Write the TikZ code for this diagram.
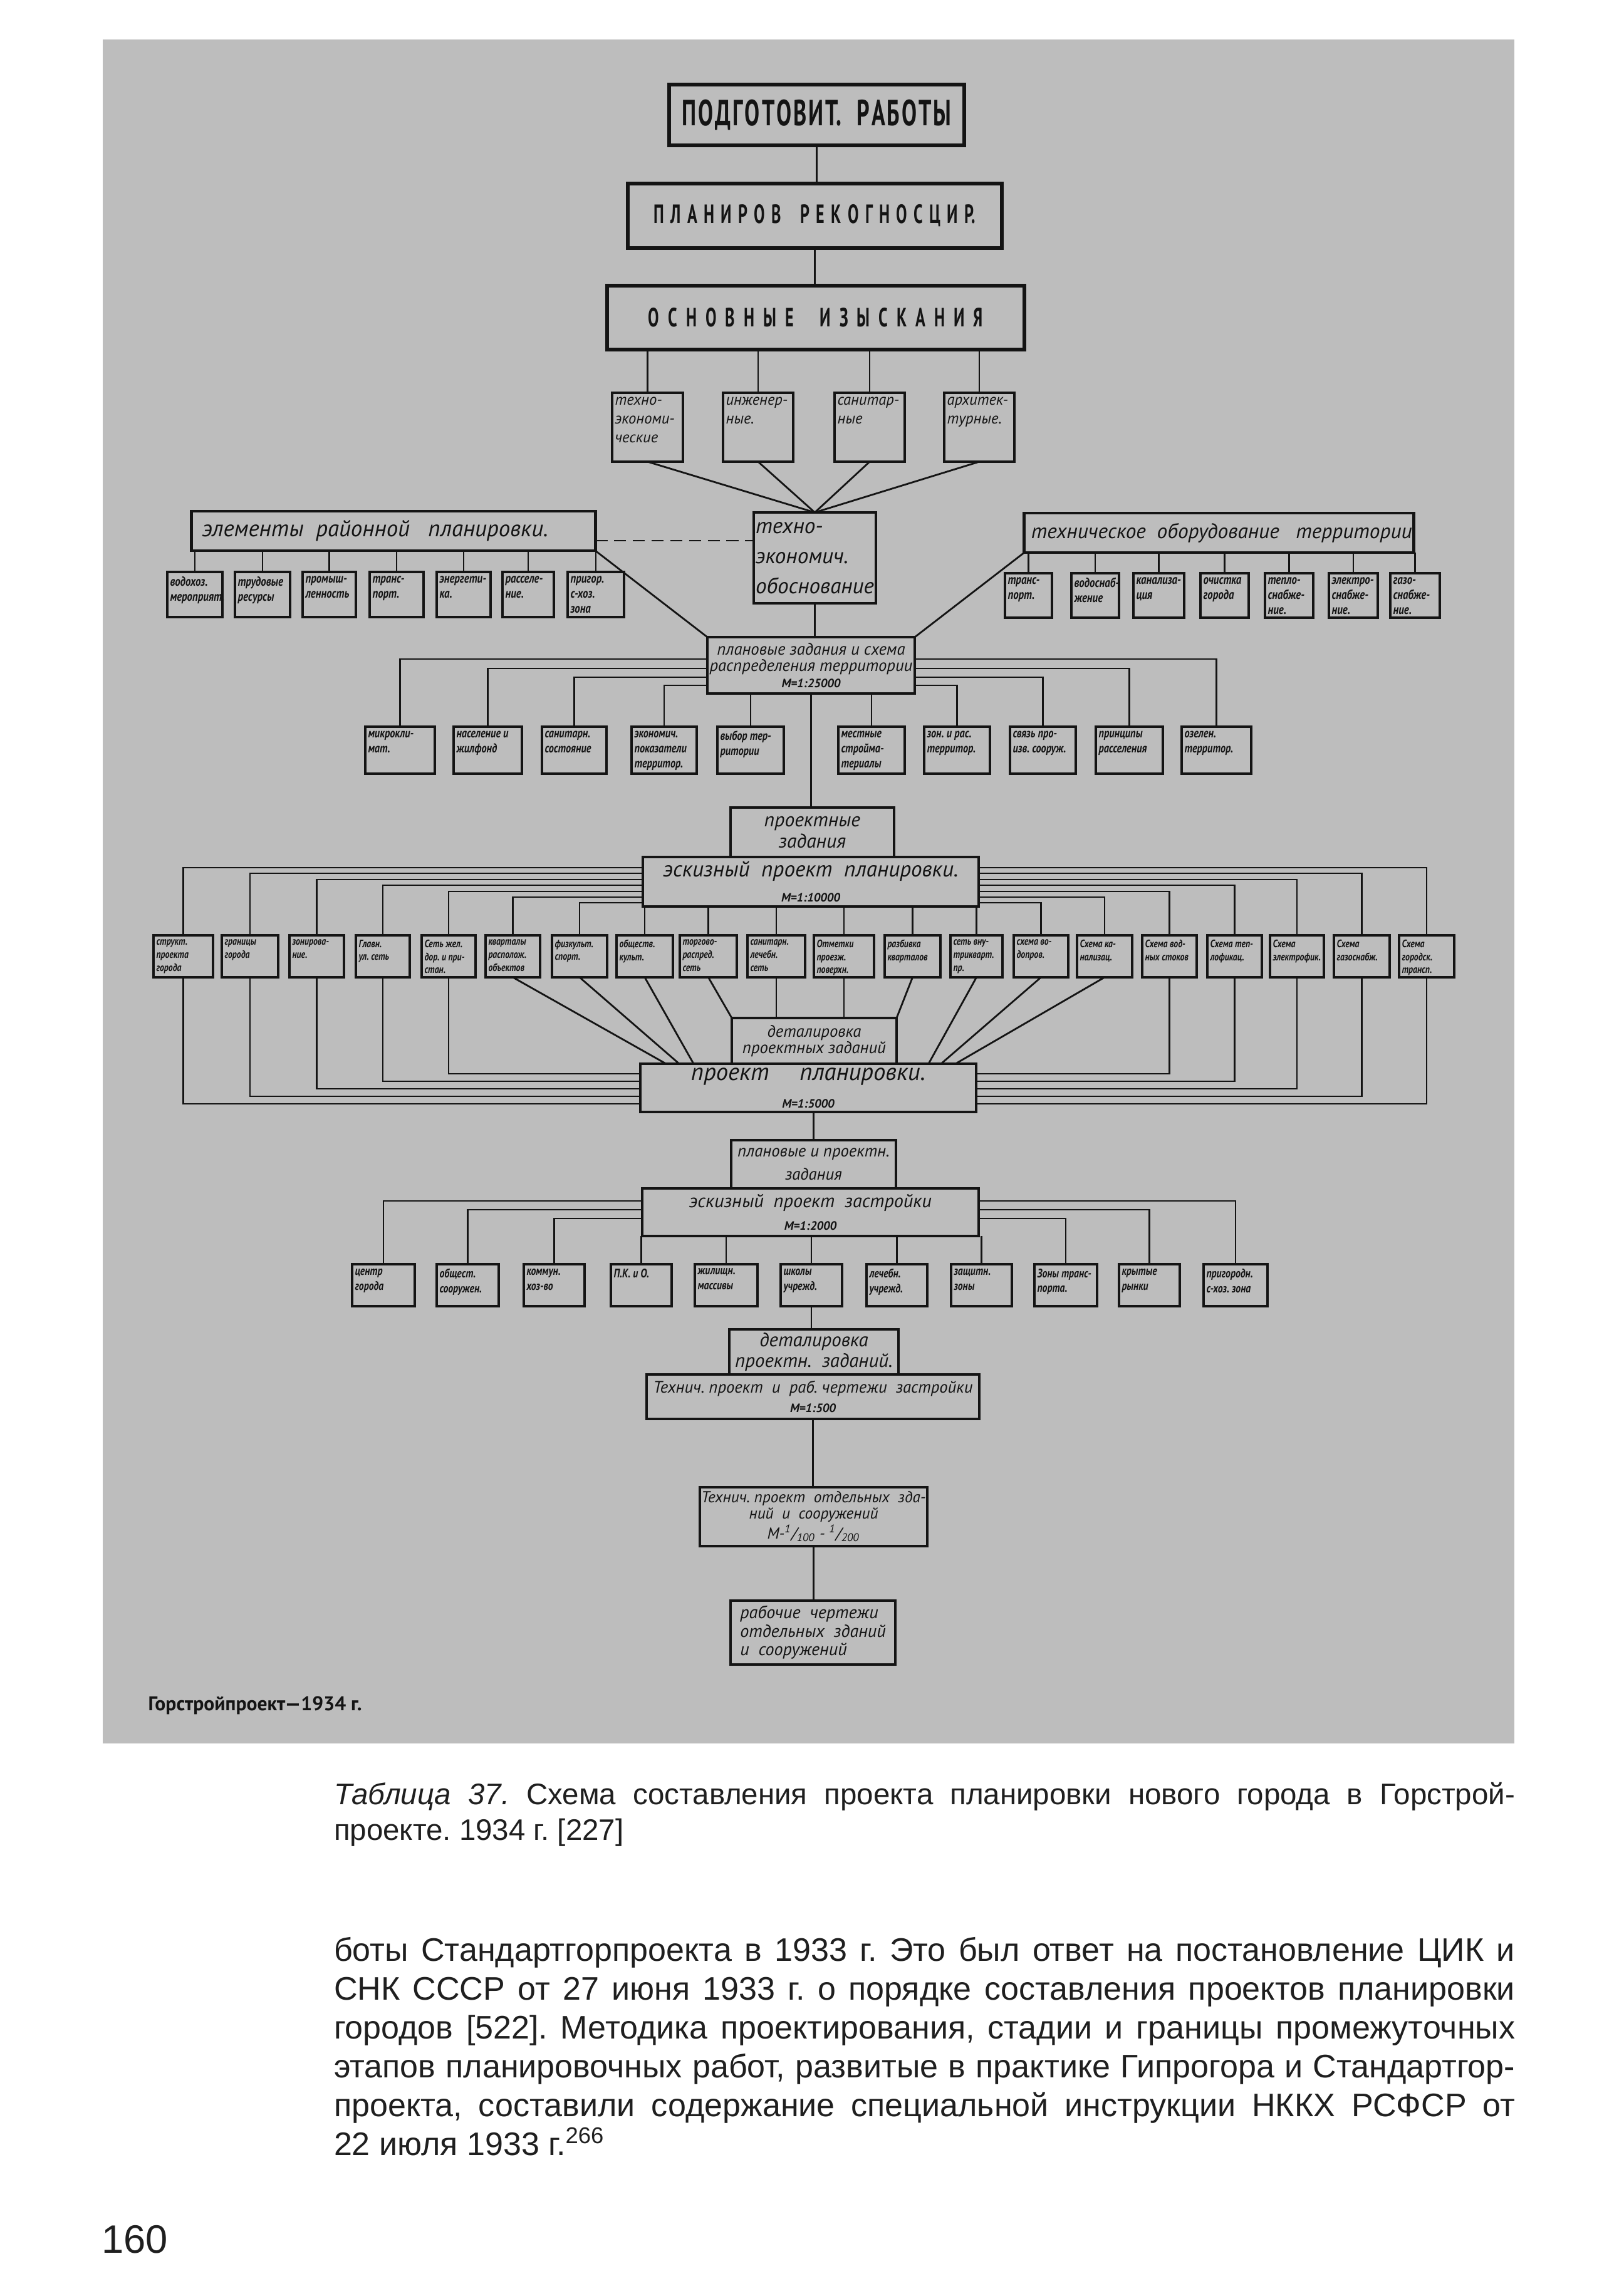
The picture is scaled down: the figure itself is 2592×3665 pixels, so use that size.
\documentclass[tikz,border=0pt]{standalone}
\usepackage{fontspec}
\usepackage{graphicx}
\setmainfont{Liberation Sans}
\newfontfamily\hand{PT Sans}
\newfontfamily\handN[FakeStretch=0.8]{PT Sans}
\newfontfamily\hdr[FakeStretch=0.62]{PT Sans}
\definecolor{photo}{gray}{0.74}
\definecolor{ink}{gray}{0.08}
\definecolor{pagetext}{gray}{0.12}
\frenchspacing
\newcommand\g{\hskip 0pt plus 1fil\relax}
\newcommand\hdrB[1]{\hdr\bfseries\fontsize{#1}{#1}\selectfont}
\newcommand\hI[2]{\hand\itshape\fontsize{#1}{#2}\selectfont}
\newcommand\hNBI[2]{\handN\itshape\bfseries\fontsize{#1}{#2}\selectfont}
\newcommand\smallM[1]{{\hand\itshape\bfseries\fontsize{5.5}{6}\selectfont #1}}
\tikzset{
  box/.style={draw=ink, line width=1.2pt, inner sep=0pt, outer sep=0pt, align=center, text=ink},
  bigbox/.style={box, line width=1.7pt},
  sbox/.style={draw=ink, line width=0.9pt, inner sep=0pt, outer sep=0pt},
  txt/.style={inner sep=0pt, outer sep=0pt, align=left, text=ink},
  con/.style={draw=ink, line width=0.8pt},
  efont/.style={font=\hNBI{6}{6.8}},
  pfont/.style={font=\hNBI{5.8}{6.8}},
  qfont/.style={font=\hNBI{4.9}{5.9}},
  rfont/.style={font=\hNBI{5.6}{6.8}},
  sfont/.style={font=\hI{7}{8.5}},
  ptext/.style={inner sep=0pt, outer sep=0pt, anchor=base west, text=pagetext}
}
% [style]{name}{x1}{y1}{x2}{y2}{text}
\newcommand\BX[7][]{\node[box,#1,minimum width={(#5-#3)*0.01cm},minimum height={(#6-#4)*0.01cm}] (#2) at ({(#3+#5)/2},{(#4+#6)/2}) {#7};}
\newcommand\SBX[7][]{\node[sbox,minimum width={(#5-#3)*0.01cm},minimum height={(#6-#4)*0.01cm}] (#2) at ({(#3+#5)/2},{(#4+#6)/2}) {};
  \node[txt,anchor=north west,#1] (#2t) at ([xshift=0.045cm,yshift=-0.07cm]#2.north west) {#7};}
\begin{document}
\begin{tikzpicture}[x=0.01cm,y=-0.01cm]
\useasboundingbox (0,0) rectangle (2592,3665);
\fill[white] (0,0) rectangle (2592,3665);
\fill[photo] (164,63) rectangle (2417,2783);

% ---- top chain
\BX[bigbox,font=\hdrB{16.5}]{b1}{1068}{135}{1539}{232}{\makebox[4.3cm][s]{П\g О\g Д\g Г\g О\g Т\g О\g В\g И\g Т.\g\ \ \g Р\g А\g Б\g О\g Т\g Ы}}
\BX[bigbox,font=\hdrB{12}]{b2}{1002}{293}{1599}{396}{\makebox[5.13cm][s]{П Л А Н И Р О В \ \ Р Е К О Г Н О С Ц И Р.}}
\BX[bigbox,font=\hdrB{12}]{b3}{969}{456}{1635}{558}{\makebox[5.34cm][s]{О С Н О В Н Ы Е \ \ И З Ы С К А Н И Я}}
\draw[con] (b1.south) -- (b1.south |- b2.north);
\draw[con] (b2.south) -- (b2.south |- b3.north);

\SBX[sfont]{s1}{977}{627}{1090}{737}{техно-\\экономи-\\ческие}
\SBX[sfont]{s2}{1154}{627}{1266}{737}{инженер-\\ные.}
\SBX[sfont]{s3}{1332}{627}{1444}{737}{санитар-\\ные}
\SBX[sfont]{s4}{1507}{627}{1619}{737}{архитек-\\турные.}
\foreach \n in {s1,s2,s3,s4} \draw[con] (b3.south -| \n.north) -- (\n.north);

\BX[box,line width=1.4pt,font=\hI{10}{13.7},align=left]{tech}{1203}{818}{1398}{963}{техно-\\экономич.\\обоснование}
\foreach \n in {s1,s2,s3,s4} \draw[con] (\n.south) -- (tech.north);

% ---- left: элементы районной планировки
\BX[box,line width=1.4pt,font=\hI{10.5}{12}]{el}{306}{816}{950}{879}{\makebox[6.44cm][l]{\hspace{0.17cm}элементы\ \ районной\ \ \ планировки.}}
\SBX[efont]{e1}{267}{913}{355}{985}{водохоз.\\мероприят.}
\SBX[efont]{e2}{375}{913}{463}{985}{трудовые\\ресурсы}
\SBX[efont]{e3}{483}{913}{568}{985}{промыш-\\ленность}
\SBX[efont]{e4}{590}{913}{676}{985}{транс-\\порт.}
\SBX[efont]{e5}{697}{913}{783}{985}{энергети-\\ка.}
\SBX[efont]{e6}{802}{913}{884}{985}{расселе-\\ние.}
\SBX[efont]{e7}{906}{913}{996}{985}{пригор.\\с-хоз.\\зона}
\foreach \n in {e1,e2,e3,e4,e5,e6,e7} \draw[con] (el.south -| \n.north) -- (\n.north);
\draw[con,dash pattern=on 5.5pt off 3pt] (el.east |- 0,863) -- (tech.west |- 0,863);

% ---- right: техническое оборудование территории
\BX[box,line width=1.4pt,font=\hI{9.5}{11}]{to}{1635}{819}{2256}{882}{\makebox[6.21cm][l]{\hspace{0.11cm}техническое\ \ оборудование\ \ \ территории.}}
\SBX[efont]{t1}{1604}{915}{1679}{986}{транс-\\порт.}
\SBX[efont]{t2}{1710}{915}{1786}{986}{водоснаб-\\жение}
\SBX[efont]{t3}{1809}{915}{1890}{986}{канализа-\\ция}
\SBX[efont]{t4}{1916}{915}{1993}{986}{очистка\\города}
\SBX[efont]{t5}{2019}{915}{2096}{986}{тепло-\\снабже-\\ние.}
\SBX[efont]{t6}{2121}{915}{2199}{986}{электро-\\снабже-\\ние.}
\SBX[efont]{t7}{2219}{915}{2298}{986}{газо-\\снабже-\\ние.}
\foreach \n in {t1,t2,t3,t4,t5,t6,t7} \draw[con] (to.south -| \n.north) -- (\n.north);

% ---- плановые задания
\BX[box,line width=1.4pt,font=\hI{7.6}{7.4}]{plan}{1129}{1017}{1460}{1107}{плановые задания и схема\\распределения территории\\\smallM{М=1:25000}}
\draw[con] (el.south east) -- (plan.north west);
\draw[con] (to.south west) -- (plan.north east);
\draw[con] (tech.south) -- (tech.south |- plan.north);

\SBX[pfont]{p1}{583}{1160}{694}{1235}{микрокли-\\мат.}
\SBX[pfont]{p2}{724}{1160}{833}{1235}{население и\\жилфонд}
\SBX[pfont]{p3}{865}{1160}{968}{1235}{санитарн.\\состояние}
\SBX[pfont]{p4}{1008}{1160}{1112}{1235}{экономич.\\показатели\\территор.}
\SBX[pfont]{p5}{1145}{1160}{1251}{1235}{выбор тер-\\ритории}
\SBX[pfont]{p6}{1338}{1160}{1444}{1235}{местные\\стройма-\\териалы}
\SBX[pfont]{p7}{1475}{1160}{1580}{1235}{зон. и рас.\\территор.}
\SBX[pfont]{p8}{1612}{1160}{1717}{1235}{связь про-\\изв. сооруж.}
\SBX[pfont]{p9}{1749}{1160}{1856}{1235}{принципы\\расселения}
\SBX[pfont]{p10}{1886}{1160}{1997}{1235}{озелен.\\территор.}
\foreach \n/\y in {p1/1052,p2/1067,p3/1081,p4/1094} \draw[con] (plan.west |- 0,\y) -| (\n.north);
\foreach \n/\y in {p10/1052,p9/1067,p8/1081,p7/1094} \draw[con] (plan.east |- 0,\y) -| (\n.north);
\foreach \n in {p5,p6} \draw[con] (plan.south -| \n.north) -- (\n.north);

% ---- проектные задания / эскизный проект планировки
\BX[box,line width=1.4pt,font=\hI{9}{9.6}]{pz}{1166}{1289}{1427}{1368}{проектные\\задания}
\draw[con] (plan.south) -- (plan.south |- pz.north);
\BX[box,line width=1.4pt,font=\hI{10}{11.5}]{esk}{1026}{1368}{1562}{1447}{эскизный\ \ проект\ \ планировки.\\\smallM{М=1:10000}}

\SBX[qfont]{q1}{245}{1493}{340}{1560}{структ.\\проекта\\города}
\SBX[qfont]{q2}{354}{1493}{444}{1560}{границы\\города}
\SBX[qfont]{q3}{462}{1493}{549}{1560}{зонирова-\\ние.}
\SBX[qfont]{q4}{568}{1493}{654}{1560}{Главн.\\ул. сеть}
\SBX[qfont]{q5}{673}{1493}{759}{1560}{Сеть жел.\\дор. и при-\\стан.}
\SBX[qfont]{q6}{775}{1493}{862}{1560}{кварталы\\располож.\\объектов}
\SBX[qfont]{q7}{881}{1493}{969}{1560}{физкульт.\\спорт.}
\SBX[qfont]{q8}{984}{1493}{1074}{1560}{обществ.\\культ.}
\SBX[qfont]{q9}{1085}{1493}{1176}{1560}{торгово-\\распред.\\сеть}
\SBX[qfont]{q10}{1193}{1493}{1285}{1560}{санитарн.\\лечебн.\\сеть}
\SBX[qfont]{q11}{1299}{1493}{1395}{1560}{Отметки\\проезж.\\поверхн.}
\SBX[qfont]{q12}{1412}{1493}{1501}{1560}{разбивка\\кварталов}
\SBX[qfont]{q13}{1517}{1493}{1600}{1560}{сеть вну-\\трикварт.\\пр.}
\SBX[qfont]{q14}{1618}{1493}{1705}{1560}{схема во-\\допров.}
\SBX[qfont]{q15}{1719}{1493}{1807}{1560}{Схема ка-\\нализац.}
\SBX[qfont]{q16}{1823}{1493}{1910}{1560}{Схема вод-\\ных стоков}
\SBX[qfont]{q17}{1927}{1493}{2014}{1560}{Схема теп-\\лофикац.}
\SBX[qfont]{q18}{2027}{1493}{2113}{1560}{Схема\\электрофик.}
\SBX[qfont]{q19}{2129}{1493}{2218}{1560}{Схема\\газоснабж.}
\SBX[qfont]{q20}{2233}{1493}{2321}{1560}{Схема\\городск.\\трансп.}
\foreach \n/\y in {q1/1385,q2/1394,q3/1404,q4/1413,q5/1423,q6/1432,q7/1441} \draw[con] (esk.west |- 0,\y) -| (\n.north);
\foreach \n/\y in {q20/1385,q19/1394,q18/1404,q17/1413,q16/1423,q15/1432,q14/1441} \draw[con] (esk.east |- 0,\y) -| (\n.north);
\foreach \n in {q8,q9,q10,q11,q12,q13} \draw[con] (esk.south -| \n.north) -- (\n.north);

% ---- деталировка / проект планировки
\BX[box,line width=1.4pt,font=\hI{7.6}{7.6}]{det}{1168}{1625}{1431}{1698}{деталировка\\проектных заданий}
\BX[box,line width=1.4pt,font=\hI{11}{12.5}]{pp}{1022}{1698}{1558}{1775}{проект\quad\ планировки.\\\smallM{М=1:5000}}
\foreach \n/\y in {q1/1762,q2/1750,q3/1738,q4/1726,q5/1714} \draw[con] (\n.south) |- (pp.west |- 0,\y);
\foreach \n/\y in {q16/1714,q17/1726,q18/1738,q19/1750,q20/1762} \draw[con] (\n.south) |- (pp.east |- 0,\y);
\draw[con] (q6.south) -- (pp.north -| 1063,0);
\draw[con] (q7.south) -- (pp.north -| 1084,0);
\draw[con] (q8.south) -- (pp.north -| 1107,0);
\draw[con] (q9.south) -- (det.north west);
\draw[con] (q10.south) -- (q10.south |- det.north);
\draw[con] (q11.south) -- (q11.south |- det.north);
\draw[con] (q12.south) -- (det.north east);
\draw[con] (q13.south) -- (pp.north -| 1482,0);
\draw[con] (q14.south) -- (pp.north -| 1502,0);
\draw[con] (q15.south) -- (pp.north -| 1525,0);

% ---- плановые и проектн. задания / эскизный проект застройки
\BX[box,line width=1.4pt,font=\hI{7.6}{10.5}]{pz2}{1167}{1820}{1430}{1897}{плановые и проектн.\\задания}
\draw[con] (pp.south -| pz2.north) -- (pz2.north);
\BX[box,line width=1.4pt,font=\hI{8.6}{10}]{ez}{1025}{1897}{1562}{1973}{эскизный\ \ проект\ \ застройки\\\smallM{М=1:2000}}

\SBX[rfont]{r1}{562}{2018}{662}{2085}{центр\\города}
\SBX[rfont]{r2}{697}{2018}{796}{2085}{общест.\\сооружен.}
\SBX[rfont]{r3}{836}{2018}{933}{2085}{коммун.\\хоз-во}
\SBX[rfont]{r4}{975}{2018}{1072}{2085}{П.К. и О.}
\SBX[rfont]{r5}{1109}{2018}{1209}{2085}{жилищн.\\массивы}
\SBX[rfont]{r6}{1246}{2018}{1344}{2085}{школы\\учрежд.}
\SBX[rfont]{r7}{1383}{2018}{1480}{2085}{лечебн.\\учрежд.}
\SBX[rfont]{r8}{1518}{2018}{1615}{2085}{защитн.\\зоны}
\SBX[rfont]{r9}{1651}{2018}{1751}{2085}{Зоны транс-\\порта.}
\SBX[rfont]{r10}{1786}{2018}{1883}{2085}{крытые\\рынки}
\SBX[rfont]{r11}{1921}{2018}{2023}{2085}{пригородн.\\с-хоз. зона}
\foreach \n/\y in {r1/1917,r2/1931,r3/1945} \draw[con] (ez.west |- 0,\y) -| (\n.north);
\foreach \n/\y in {r11/1917,r10/1931,r9/1945} \draw[con] (ez.east |- 0,\y) -| (\n.north);
\foreach \n in {r4,r5,r6,r7,r8} \draw[con] (ez.south -| \n.north) -- (\n.north);

% ---- lower chain
\BX[box,line width=1.4pt,font=\hI{8.8}{9.5}]{dz}{1164}{2122}{1434}{2194}{деталировка\\проектн.\ \ заданий.}
\draw[con] (r6.south) -- (r6.south |- dz.north);
\BX[box,line width=1.4pt,font=\hI{7.6}{9}]{tp}{1032}{2194}{1563}{2265}{Технич. проект\ \ и\ \ раб. чертежи\ \ застройки\\\smallM{М=1:500}}
\BX[box,line width=1.4pt,font=\hI{7.2}{7.4}]{tob}{1117}{2374}{1480}{2468}{Технич. проект\ \ отдельных\ \ зда-\\ний\ \ и\ \ сооружений\\М-\textsuperscript{1}/\textsubscript{100} - \textsuperscript{1}/\textsubscript{200}}
\draw[con] (tp.south) -- (tp.south |- tob.north);
\BX[box,line width=1.4pt,font=\hI{8}{8.4},align=left]{rc}{1166}{2555}{1429}{2657}{рабочие\ \ чертежи\\отдельных\ \ зданий\\и\ \ сооружений}
\draw[con] (tob.south) -- (tob.south |- rc.north);

\node[inner sep=0pt,anchor=base west,text=ink,font=\hand\bfseries\fontsize{9}{10}\selectfont] (src) at (236,2730) {Горстройпроект—1934 г.};

% ---- page text
\node[ptext,font=\fontsize{13.5}{16}\selectfont] (cap1) at (533,2880) {\makebox[18.84cm][s]{\textit{Таблица 37.} Схема составления проекта планировки нового города в Горстрой-}};
\node[ptext,font=\fontsize{13.5}{16}\selectfont] (cap2) at (533,2937) {проекте. 1934 г. [227]};

\node[ptext,font=\fontsize{14.8}{17}\selectfont] (l1) at (533,3130) {\makebox[18.84cm][s]{боты Стандартгорпроекта в 1933 г. Это был ответ на постановление ЦИК и}};
\node[ptext,font=\fontsize{14.8}{17}\selectfont] (l2) at (533,3192) {\makebox[18.84cm][s]{СНК СССР от 27 июня 1933 г. о порядке составления проектов планировки}};
\node[ptext,font=\fontsize{14.8}{17}\selectfont] (l3) at (533,3254) {\makebox[18.84cm][s]{городов [522]. Методика проектирования, стадии и границы промежуточных}};
\node[ptext,font=\fontsize{14.8}{17}\selectfont] (l4) at (533,3316) {\makebox[18.84cm][s]{этапов планировочных работ, развитые в практике Гипрогора и Стандартгор-}};
\node[ptext,font=\fontsize{14.8}{17}\selectfont] (l5) at (533,3378) {\makebox[18.84cm][s]{проекта, составили содержание специальной инструкции НККХ РСФСР от}};
\node[ptext,font=\fontsize{14.8}{17}\selectfont] (l6) at (533,3440) {22 июля 1933 г.\textsuperscript{266}};

\node[ptext,font=\fontsize{18}{20}\selectfont] (pg) at (162,3596) {160};
\end{tikzpicture}
\end{document}
